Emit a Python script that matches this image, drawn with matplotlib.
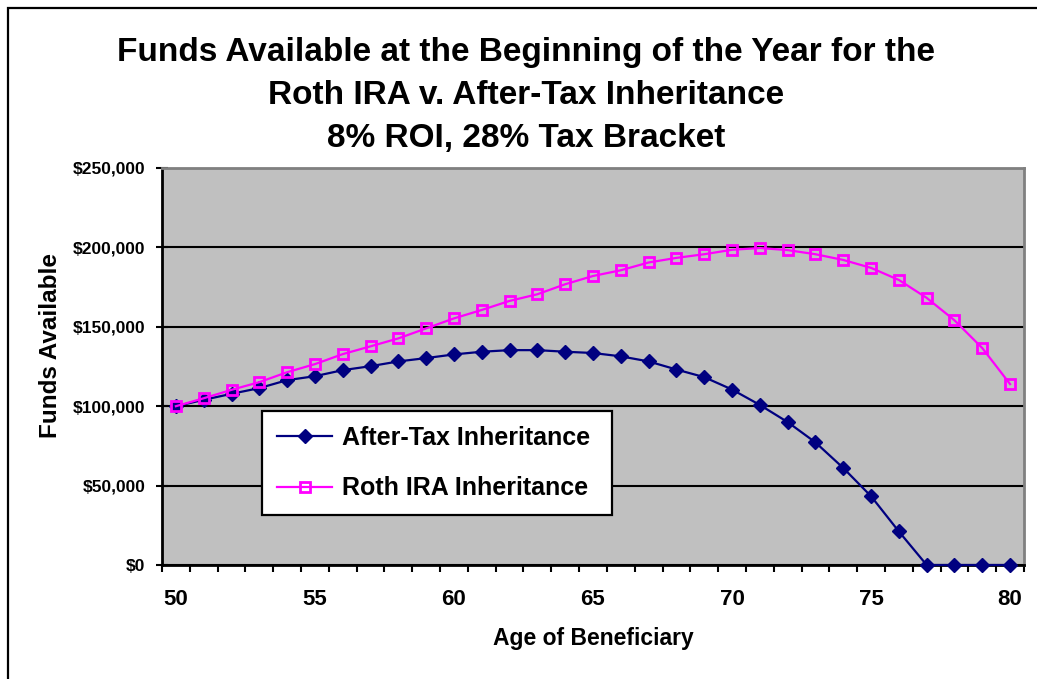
import numpy as np
import matplotlib
matplotlib.use("Agg")
import matplotlib.pyplot as plt
from matplotlib.patches import Rectangle
from matplotlib.ticker import FuncFormatter, MultipleLocator, FixedLocator

plt.rcParams['font.family'] = ['Liberation Sans', 'DejaVu Sans']
plt.rcParams['font.weight'] = 'bold'

ages = list(range(50, 81))
after_tax = [100000, 104000, 107800, 111400, 116400, 118900, 122700, 125200, 128200, 130300,
             132600, 134300, 135300, 135300, 134300, 133500, 131400, 128200, 123100, 118300,
             110500, 100800, 90000, 77200, 61100, 43300, 21100, 0, 0, 0, 0]
roth_ira = [100000, 105000, 110300, 115150, 121400, 126500, 132800, 137700, 142700, 149000,
            155300, 160600, 166300, 170500, 176800, 182000, 185600, 190500, 193400, 195700,
            198500, 199600, 198300, 195700, 192100, 187100, 179500, 168200, 154100, 136600,
            113900]
labels = ["After-Tax Inheritance", "Roth IRA Inheritance"]
title_lines = ["Funds Available at the Beginning of the Year for the",
               "Roth IRA v. After-Tax Inheritance",
               "8% ROI, 28% Tax Bracket"]

W, H = 1037, 679
fig = plt.figure(figsize=(W / 100, H / 100), dpi=100)

# outer chart border (runs off the right and bottom edge)
fig.patches.append(Rectangle((8 / W, -0.05), 1.1, 1 - 8 / H + 0.05, transform=fig.transFigure,
                             fill=False, edgecolor='black', linewidth=1.6))

ax = fig.add_axes([162 / W, 1 - 565 / H, (1024 - 162) / W, (565 - 168) / H])
ax.set_facecolor('#C0C0C0')

x = np.arange(len(ages))
ax.plot(x, after_tax, color='#000080', linewidth=1.6, marker='D', markersize=7.3,
        markerfacecolor='#000080', markeredgecolor='#000080', clip_on=False, zorder=4,
        label=labels[0])
ax.plot(x, roth_ira, color='#FF00FF', linewidth=1.6, marker='s', markersize=6.5,
        markerfacecolor='none', markeredgecolor='#FF00FF', markeredgewidth=2,
        clip_on=False, zorder=4, label=labels[1])

ax.set_xlim(-0.5, len(ages) - 0.5)
ax.set_ylim(0, 250000)

ax.yaxis.set_major_locator(MultipleLocator(50000))
ax.yaxis.set_major_formatter(FuncFormatter(lambda v, p: '${:,.0f}'.format(v)))
ax.grid(axis='y', color='black', linewidth=1.5)
ax.set_axisbelow(True)

ax.xaxis.set_major_locator(FixedLocator([i for i, a in enumerate(ages) if a % 5 == 0]))
ax.xaxis.set_major_formatter(FuncFormatter(lambda v, p: str(ages[int(round(v))])))
ax.xaxis.set_minor_locator(FixedLocator(np.arange(-0.5, len(ages), 1.0)))
ax.tick_params(axis='x', which='major', length=0, pad=17, labelsize=16)
ax.tick_params(axis='x', which='minor', length=5, width=1.5, direction='out')
ax.tick_params(axis='y', which='major', length=8, width=1.5, direction='inout', pad=8,
               labelsize=12.5)

for side in ['left', 'bottom']:
    ax.spines[side].set_color('black')
    ax.spines[side].set_linewidth(2)
for side in ['top', 'right']:
    ax.spines[side].set_color('#808080')
    ax.spines[side].set_linewidth(2)

leg = ax.legend(loc='upper left', bbox_to_anchor=(262 / W, 1 - 411 / H - 0.01, 350 / W, 0.01),
                bbox_transform=fig.transFigure, mode='expand', borderaxespad=0,
                fancybox=False, framealpha=1, edgecolor='black', fontsize=18,
                borderpad=0.6, labelspacing=1.05, handlelength=2.2, handletextpad=0.4)
leg.get_frame().set_linewidth(1.6)

for i, line in enumerate(title_lines):
    fig.text(526 / W, 1 - (53 + 42.5 * i) / H, line, ha='center', va='center',
             fontsize=24, fontweight='bold')

fig.text(593 / W, 1 - 639 / H, "Age of Beneficiary", ha='center', va='center',
         fontsize=16.5, fontweight='bold')
fig.text(51 / W, 1 - 345 / H, "Funds Available", ha='center', va='center',
         rotation=90, fontsize=17.5, fontweight='bold')

fig.savefig('out.png', dpi=100)
